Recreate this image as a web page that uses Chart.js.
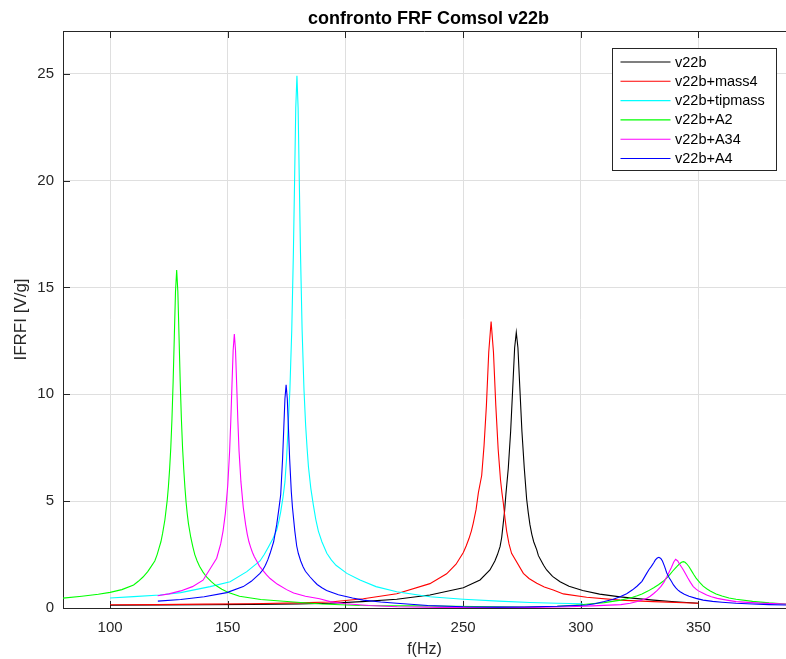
<!DOCTYPE html>
<html>
<head>
<meta charset="utf-8">
<title>confronto FRF Comsol v22b</title>
<script src="https://cdn.jsdelivr.net/npm/chart.js@4.4.1/dist/chart.umd.min.js"></script>
<style>
  html, body { margin: 0; padding: 0; background: #ffffff; }
  canvas { display: block; }
</style>
</head>
<body>
<canvas id="frf" width="786" height="659"></canvas>
<script>
// ---- data: FRF magnitude |FRF| [V/g] versus frequency [Hz] ----
const seriesNames  = ['v22b', 'v22b+mass4', 'v22b+tipmass', 'v22b+A2', 'v22b+A34', 'v22b+A4'];
const seriesColors = ['#000000', '#ff0000', '#00ffff', '#00ff00', '#ff00ff', '#0000ff'];

const fV22b = [100, 120, 140, 160, 180, 193.5, 207, 221.8, 235.9, 250.1, 257.2, 261.4, 263.5, 264.6, 265.7, 266.4, 267, 267.6, 268.2, 269.2, 270.2, 271.1, 271.9, 272.6, 273.3, 274.1, 275, 276, 277, 277.7, 278.4, 279.2, 280, 281.3, 282, 283, 284.2, 285.5, 288, 291.2, 295, 300.8, 308, 316.7, 323, 330.8, 340, 350];
const vV22b = [0.13, 0.14, 0.15, 0.17, 0.19, 0.22, 0.3, 0.41, 0.61, 0.95, 1.31, 1.78, 2.2, 2.5, 2.87, 3.3, 3.9, 4.5, 5.34, 6.54, 8.26, 10.32, 12.18, 12.9, 12.18, 10.32, 8.26, 6.54, 5.1, 4.45, 3.9, 3.45, 3.1, 2.72, 2.45, 2.25, 2.0, 1.78, 1.48, 1.23, 1.02, 0.82, 0.65, 0.52, 0.45, 0.37, 0.29, 0.22];

const fMass4 = [100, 120, 140, 160, 180, 193.5, 207.6, 221.8, 235.9, 243, 247, 250.1, 251.3, 252.5, 253.5, 254.3, 255.5, 256.5, 257.9, 258.9, 259.9, 260.9, 261.9, 262.9, 263.9, 264.9, 265.9, 266.5, 267.1, 267.8, 268.5, 269.5, 270.6, 275.6, 278, 281.3, 284.5, 288.3, 292.6, 302.5, 316.7, 330.8, 350];
const vMass4 = [0.15, 0.16, 0.18, 0.2, 0.24, 0.28, 0.43, 0.67, 1.14, 1.6, 2.05, 2.6, 2.9, 3.25, 3.6, 3.96, 4.6, 5.4, 6.2, 7.6, 9.47, 11.98, 13.4, 11.98, 9.47, 7.43, 5.99, 5.4, 4.9, 4.2, 3.6, 3.0, 2.56, 1.62, 1.38, 1.16, 0.98, 0.84, 0.66, 0.5, 0.37, 0.3, 0.22];

const fTipmass = [100, 110, 121.2, 130, 142.5, 151, 158.1, 163.7, 165.5, 167, 169, 170.8, 171.8, 172.5, 173.5, 174.3, 175, 175.7, 176.4, 177.2, 177.9, 178.4, 178.9, 179.4, 179.9, 180.4, 180.9, 181.6, 182.4, 183.1, 183.7, 184.3, 185.3, 186.4, 187.4, 188.5, 190, 192.1, 194, 196, 200.6, 206.2, 213, 221.8, 235.9, 250.1, 265, 278.4, 290, 300.8];
const vTipmass = [0.47, 0.53, 0.61, 0.72, 1.0, 1.23, 1.7, 2.2, 2.5, 2.8, 3.2, 3.65, 4.1, 4.5, 5.2, 5.9, 7.0, 8.6, 10.2, 13.0, 16.66, 20.0, 23.4, 24.9, 23.4, 20.0, 16.66, 13.0, 10.2, 8.54, 7.5, 6.6, 5.6, 4.8, 4.15, 3.6, 3.1, 2.56, 2.25, 2.0, 1.62, 1.31, 1.0, 0.76, 0.53, 0.41, 0.32, 0.26, 0.22, 0.2];

const fA2 = [80, 88, 95, 100, 105, 110, 112, 114, 116, 117.5, 119, 120, 120.8, 121.6, 122.3, 123.3, 124.3, 124.8, 125.3, 125.8, 126.3, 126.8, 127.3, 127.8, 128.3, 128.8, 129.3, 129.8, 130.3, 130.8, 131.3, 131.8, 132.3, 132.8, 133.3, 134.3, 135.2, 136, 137, 138, 139.5, 141, 143, 145, 147.5, 150, 155, 164, 178, 190, 206, 230, 255, 276, 290, 300, 310, 317, 319.5, 322, 324, 326, 328.5, 331, 333, 335, 336.5, 338, 339, 340, 341, 342, 342.8, 343.6, 344.3, 345, 346, 347, 348, 349, 350.5, 352, 353.5, 355, 357.5, 360, 363, 366, 373, 380, 387.2];
const vA2 = [0.46, 0.55, 0.64, 0.73, 0.86, 1.08, 1.25, 1.45, 1.7, 1.95, 2.2, 2.5, 2.8, 3.1, 3.48, 4.13, 5.06, 5.7, 6.5, 7.5, 8.86, 10.6, 12.7, 14.8, 15.82, 14.8, 12.7, 10.6, 8.86, 7.5, 6.5, 5.65, 4.95, 4.4, 3.95, 3.3, 2.85, 2.5, 2.2, 1.95, 1.68, 1.45, 1.23, 1.05, 0.88, 0.74, 0.55, 0.4, 0.28, 0.19, 0.12, 0.1, 0.07, 0.05, 0.08, 0.15, 0.25, 0.37, 0.43, 0.5, 0.57, 0.66, 0.79, 0.95, 1.09, 1.25, 1.4, 1.59, 1.72, 1.84, 1.96, 2.07, 2.14, 2.17, 2.14, 2.07, 1.93, 1.75, 1.57, 1.4, 1.2, 1.02, 0.9, 0.8, 0.66, 0.56, 0.47, 0.41, 0.31, 0.24, 0.19];

const fA34 = [120.2, 125, 130, 135, 139.5, 145.3, 147, 148, 149, 150, 150.8, 151.3, 151.8, 152.3, 152.8, 153.3, 153.8, 154.3, 154.8, 155.6, 156.6, 157.6, 158.3, 159, 159.7, 160.5, 161.3, 162.3, 163.5, 165, 166.5, 168, 171, 175, 178, 183, 189, 193.5, 200, 210, 222, 240, 260, 280, 295, 305, 317, 321, 324, 326, 328, 329.5, 331, 332.5, 334, 335.3, 336.5, 337.5, 338.5, 339.5, 340.3, 341.2, 342, 342.8, 343.6, 344.5, 345.5, 346.6, 347.8, 349, 350, 351.8, 353.5, 355.5, 358, 362, 366, 376, 387.2];
const vA34 = [0.57, 0.66, 0.8, 1.0, 1.3, 2.33, 3.0, 3.6, 4.44, 5.73, 7.35, 8.76, 10.45, 12.06, 12.82, 12.06, 10.45, 8.76, 7.35, 5.9, 4.7, 3.9, 3.45, 3.1, 2.85, 2.6, 2.4, 2.2, 1.95, 1.75, 1.55, 1.38, 1.12, 0.86, 0.7, 0.55, 0.43, 0.3, 0.2, 0.12, 0.06, 0.03, 0.02, 0.03, 0.06, 0.1, 0.16, 0.22, 0.3, 0.37, 0.45, 0.55, 0.68, 0.82, 1.0, 1.2, 1.45, 1.67, 1.9, 2.15, 2.28, 2.2, 2.05, 1.92, 1.78, 1.6, 1.4, 1.2, 1.0, 0.88, 0.8, 0.7, 0.61, 0.53, 0.45, 0.37, 0.3, 0.23, 0.19];

const fA4 = [120.3, 130, 140, 149.6, 156.6, 160, 163.7, 165, 166, 167, 168, 169.5, 170.8, 171.8, 172.5, 173.3, 173.8, 174.3, 174.8, 175.3, 175.8, 176.3, 177, 177.5, 178.5, 179.3, 180, 181, 182, 183, 185, 186.5, 188, 190, 192, 197, 203, 207.6, 215, 221.8, 235, 250, 265, 276, 290, 302.5, 306, 310, 313.5, 316.7, 319.5, 322, 324, 326, 328, 329, 330, 331, 331.7, 332.5, 333.2, 334, 334.7, 335.6, 336.5, 337.5, 338.5, 339.4, 340.3, 341.2, 342.2, 344, 346, 349, 352, 356, 360, 366, 373, 380, 387.2];
const vA4 = [0.32, 0.4, 0.53, 0.72, 1.0, 1.25, 1.62, 1.8, 2.0, 2.25, 2.56, 3.1, 3.9, 4.7, 5.3, 6.98, 8.39, 9.79, 10.44, 9.79, 8.39, 6.98, 5.45, 4.7, 3.6, 2.9, 2.55, 2.2, 1.93, 1.72, 1.45, 1.27, 1.1, 0.95, 0.82, 0.62, 0.47, 0.37, 0.28, 0.22, 0.12, 0.06, 0.04, 0.05, 0.08, 0.14, 0.2, 0.3, 0.4, 0.53, 0.67, 0.85, 1.03, 1.25, 1.62, 1.8, 1.95, 2.12, 2.25, 2.34, 2.37, 2.32, 2.2, 1.95, 1.65, 1.43, 1.25, 1.08, 0.95, 0.85, 0.76, 0.64, 0.55, 0.45, 0.37, 0.31, 0.27, 0.22, 0.19, 0.16, 0.14];

const seriesFreq = [fV22b, fMass4, fTipmass, fA2, fA34, fA4];
const seriesVals = [vV22b, vMass4, vTipmass, vA2, vA34, vA4];

// axis ticks and limits
const xTicks = [100, 150, 200, 250, 300, 350];
const yTicks = [0, 5, 10, 15, 20, 25];
const xLimits = [80, 387.2];
const yLimits = [0, 27];

const titleText = 'confronto FRF Comsol v22b';
const xLabel = 'f(Hz)';
const yLabel = 'IFRFI [V/g]';

// ---- styling ----
const FONT = '"Liberation Sans", Arial, Helvetica, sans-serif';
const AXIS_COLOR = '#262626';
const GRID_COLOR = '#dfdfdf';
const TICK_LEN = 7;

const datasets = seriesNames.map((name, i) => ({
  label: name,
  data: seriesFreq[i].map((f, k) => ({ x: f, y: seriesVals[i][k] })),
  borderColor: seriesColors[i],
  backgroundColor: seriesColors[i],
  borderWidth: 1.1,
  pointRadius: 0,
  pointHoverRadius: 0,
  tension: 0,
  fill: false,
  // later series are painted on top
  order: seriesNames.length - i
}));

// axis box, inward tick marks, title and the boxed legend
const framePlugin = {
  id: 'frame',
  beforeDatasetsDraw(chart) {
    const { ctx, chartArea: a, scales: { x, y } } = chart;
    ctx.save();
    ctx.strokeStyle = AXIS_COLOR;
    ctx.lineWidth = 1;
    ctx.beginPath();
    ctx.moveTo(a.left, a.top + 0.5);
    ctx.lineTo(a.right, a.top + 0.5);
    xTicks.forEach(t => {
      const px = Math.round(x.getPixelForValue(t)) + 0.5;
      ctx.moveTo(px, a.bottom);
      ctx.lineTo(px, a.bottom - TICK_LEN);
      ctx.moveTo(px, a.top);
      ctx.lineTo(px, a.top + TICK_LEN);
    });
    yTicks.forEach(t => {
      const py = Math.round(y.getPixelForValue(t)) + 0.5;
      ctx.moveTo(a.left, py);
      ctx.lineTo(a.left + TICK_LEN, py);
    });
    ctx.stroke();
    ctx.restore();
  },
  afterDraw(chart) {
    const { ctx, chartArea: a } = chart;
    ctx.save();
    // title
    ctx.fillStyle = '#000000';
    ctx.font = 'bold 18px ' + FONT;
    ctx.textAlign = 'center';
    ctx.textBaseline = 'alphabetic';
    ctx.fillText(titleText, (a.left + a.right) / 2 + 4, 24);

    // legend
    const bx = 612.5, by = 48.5, bw = 164, bh = 122;
    ctx.fillStyle = '#ffffff';
    ctx.fillRect(bx, by, bw, bh);
    ctx.strokeStyle = AXIS_COLOR;
    ctx.lineWidth = 1;
    ctx.strokeRect(bx, by, bw, bh);
    ctx.font = '14.5px ' + FONT;
    ctx.textAlign = 'left';
    ctx.textBaseline = 'middle';
    chart.data.datasets.forEach((ds, i) => {
      const ry = 62 + i * 19.3;
      ctx.strokeStyle = ds.borderColor;
      ctx.lineWidth = 1.1;
      ctx.beginPath();
      ctx.moveTo(620.5, ry);
      ctx.lineTo(670.5, ry);
      ctx.stroke();
      ctx.fillStyle = '#000000';
      ctx.fillText(ds.label, 675, ry + 0.5);
    });
    ctx.restore();
  }
};

new Chart(document.getElementById('frf'), {
  type: 'line',
  data: { datasets },
  options: {
    responsive: false,
    devicePixelRatio: 1,
    animation: false,
    events: [],
    layout: { padding: { top: 31, right: 0, bottom: 0, left: 0 } },
    plugins: {
      legend: { display: false },
      title: { display: false },
      tooltip: { enabled: false }
    },
    scales: {
      x: {
        type: 'linear',
        min: xLimits[0],
        max: xLimits[1],
        afterBuildTicks: s => { s.ticks = xTicks.map(v => ({ value: v })); },
        afterFit: s => { s.height = 51; },
        grid: { color: GRID_COLOR, lineWidth: 1, drawTicks: false },
        border: { display: true, color: AXIS_COLOR, width: 1 },
        ticks: {
          color: AXIS_COLOR,
          font: { family: FONT, size: 15 },
          padding: 11,
          maxRotation: 0,
          autoSkip: false
        },
        title: {
          display: true,
          text: xLabel,
          color: AXIS_COLOR,
          font: { family: FONT, size: 16 },
          padding: { top: 0, bottom: 0 }
        }
      },
      y: {
        type: 'linear',
        min: yLimits[0],
        max: yLimits[1],
        afterBuildTicks: s => { s.ticks = yTicks.map(v => ({ value: v })); },
        afterFit: s => { s.width = 63; },
        grid: { color: GRID_COLOR, lineWidth: 1, drawTicks: false },
        border: { display: true, color: AXIS_COLOR, width: 1 },
        ticks: {
          color: AXIS_COLOR,
          font: { family: FONT, size: 15 },
          padding: 9,
          autoSkip: false
        },
        title: {
          display: true,
          text: yLabel,
          color: AXIS_COLOR,
          font: { family: FONT, size: 17 },
          padding: { top: 11, bottom: 0 }
        }
      }
    }
  },
  plugins: [framePlugin]
});
</script>
</body>
</html>
